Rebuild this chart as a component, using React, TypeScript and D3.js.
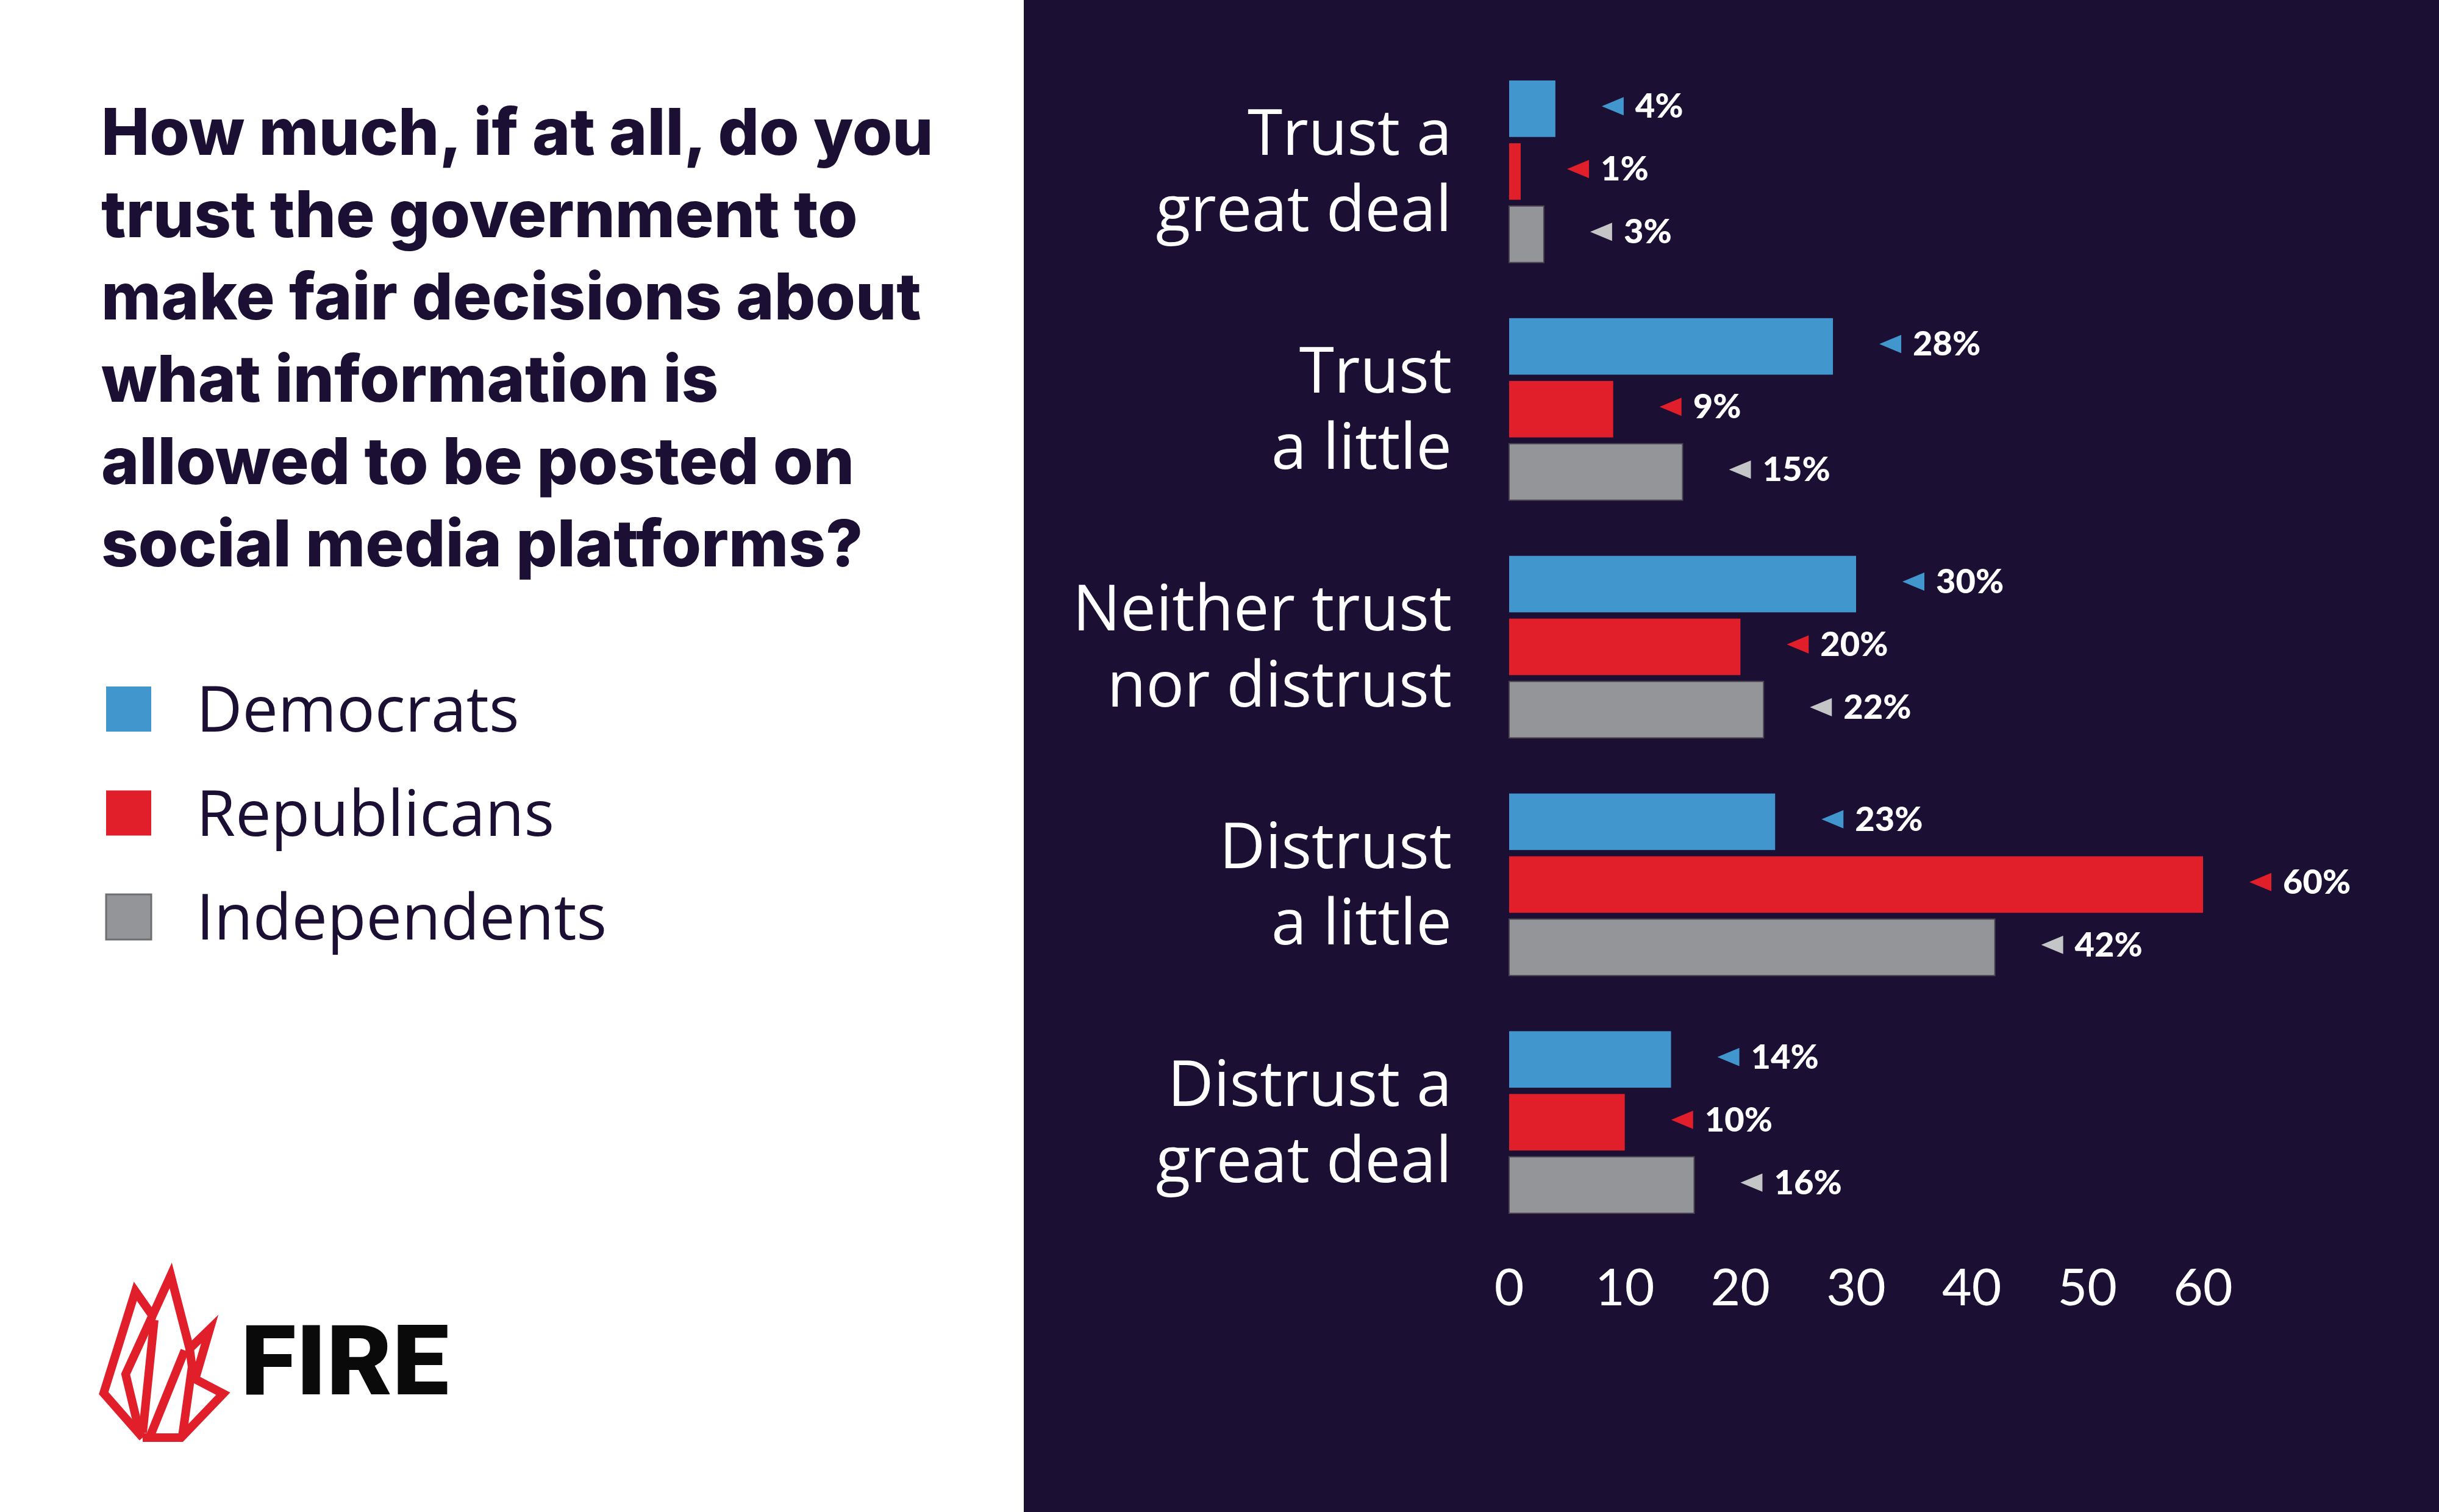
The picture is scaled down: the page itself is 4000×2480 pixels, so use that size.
import { scaleBand, scaleLinear, line } from "d3";

const categories = [
  "Trust a great deal",
  "Trust a little",
  "Neither trust nor distrust",
  "Distrust a little",
  "Distrust a great deal",
];
const categoryLines = [
  ["Trust a", "great deal"],
  ["Trust", "a little"],
  ["Neither trust", "nor distrust"],
  ["Distrust", "a little"],
  ["Distrust a", "great deal"],
];
const seriesNames = ["Democrats", "Republicans", "Independents"];
const democrats = [4, 28, 30, 23, 14];
const republicans = [1, 9, 20, 60, 10];
const independents = [3, 15, 22, 42, 16];
const xTicks = [0, 10, 20, 30, 40, 50, 60];
const titleLines = [
  "How much, if at all, do you",
  "trust the government to",
  "make fair decisions about",
  "what information is",
  "allowed to be posted on",
  "social media platforms?",
];

const seriesValues = [democrats, republicans, independents];
const barColors = ["#4197cd", "#e11f2b", "#939598"];
const arrowColors = ["#4197cd", "#e11f2b", "#c4c5c7"];
const ink = "#1b0f33";

export default function App() {
  const W = 4000;
  const H = 2480;
  const panelX = 1679;

  const x = scaleLinear().domain([0, 60]).range([2475, 3613]);
  const y = scaleBand().domain(categories).range([132, 1990]).paddingInner(0.234).paddingOuter(0);
  const ySub = scaleBand().domain(seriesNames).range([0, y.bandwidth()]).paddingInner(0.1);

  // flame logo strokes (logo artwork, not data)
  const flame: [number, number][][] = [
    [[234, 2358], [297, 2358], [366, 2286], [320, 2262], [344, 2180], [311, 2212], [280, 2092], [250, 2158], [222, 2118], [170, 2285], [234, 2358]],
    [[250, 2158], [206, 2254], [229, 2350]],
    [[253, 2165], [234, 2350]],
    [[303, 2215], [246, 2356]],
    [[311, 2212], [315, 2242], [299, 2356]],
  ];
  const path = line();

  return (
    <svg
      width={W}
      height={H}
      viewBox={`0 0 ${W} ${H}`}
      style={{ position: "absolute", left: 0, top: 0, display: "block" }}
    >
      <rect x={0} y={0} width={W} height={H} fill="#ffffff" />
      <rect x={panelX} y={0} width={W - panelX} height={H} fill={ink} />

      {/* title */}
      <g fontFamily="Inter, sans-serif" fontWeight={800} fontSize={106} fill={ink}>
        {titleLines.map((t, i) => (
          <text key={i} x={166} y={254 + i * 135}>
            {t}
          </text>
        ))}
      </g>

      {/* legend */}
      <g fontFamily="'Open Sans', sans-serif" fontSize={104} fill={ink}>
        {seriesNames.map((s, i) => (
          <g key={s} transform={`translate(174, ${1126 + i * 170.5})`}>
            <rect
              width={74}
              height={74}
              fill={barColors[i]}
              stroke={i === 2 ? "#6d6e71" : "none"}
              strokeWidth={3}
            />
            <text x={148} y={74}>
              {s}
            </text>
          </g>
        ))}
      </g>

      {/* logo */}
      <g fill="none" stroke="#e11f2b" strokeWidth={14} strokeLinejoin="miter" strokeMiterlimit={6}>
        {flame.map((pts, i) => (
          <path key={i} d={path(pts) || ""} />
        ))}
      </g>
      <text
        x={395}
        y={2287}
        fontFamily="Roboto, sans-serif"
        fontWeight={900}
        fontSize={159}
        textLength={341}
        lengthAdjust="spacingAndGlyphs"
        fill="#0a0a0a"
      >
        FIRE
      </text>

      {/* category labels */}
      <g fontFamily="'Open Sans', sans-serif" fontSize={104} fill="#ffffff" textAnchor="end">
        {categories.map((c, i) => {
          const cy = (y(c) || 0) + y.bandwidth() / 2;
          return (
            <g key={c}>
              <text x={2381} y={cy - 27}>
                {categoryLines[i][0]}
              </text>
              <text x={2381} y={cy + 98}>
                {categoryLines[i][1]}
              </text>
            </g>
          );
        })}
      </g>

      {/* bars */}
      {categories.map((c, ci) => (
        <g key={c} transform={`translate(0, ${y(c)})`}>
          {seriesNames.map((s, si) => {
            const v = seriesValues[si][ci];
            const by = ySub(s) || 0;
            const bh = ySub.bandwidth();
            const end = x(v);
            const cy = by + bh / 2 - 4;
            const tip = end + 76;
            return (
              <g key={s}>
                <rect
                  x={x(0)}
                  y={by}
                  width={end - x(0)}
                  height={bh}
                  fill={barColors[si]}
                  stroke={si === 2 ? "#4a4550" : "none"}
                  strokeWidth={2}
                />
                <path
                  d={`M${tip},${cy} L${tip + 36},${cy - 15} L${tip + 36},${cy + 15} Z`}
                  fill={arrowColors[si]}
                />
                <text
                  x={end + 131}
                  y={cy + 19}
                  fontFamily="Lato, sans-serif"
                  fontWeight={900}
                  fontSize={56}
                  fill="#ffffff"
                >
                  {v}%
                </text>
              </g>
            );
          })}
        </g>
      ))}

      {/* x axis */}
      <g fontFamily="Lato, sans-serif" fontSize={84} fill="#ffffff" textAnchor="middle">
        {xTicks.map((t) => (
          <text key={t} x={x(t)} y={2141}>
            {t}
          </text>
        ))}
      </g>
    </svg>
  );
}
